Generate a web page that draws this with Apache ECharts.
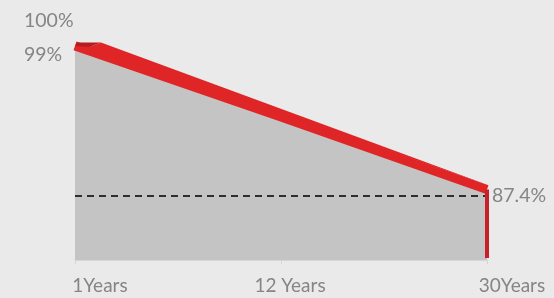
<!DOCTYPE html>
<html>
<head>
<meta charset="utf-8">
<script src="https://cdn.jsdelivr.net/npm/echarts@6/dist/echarts.min.js"></script>
<style>
  html, body { margin: 0; padding: 0; background: #eaeaea; }
  #chart { width: 554px; height: 298px; }
</style>
</head>
<body>
<div id="chart"></div>
<script>
// Données du graphique
const categories = ['1Years', '12 Years', '30Years'];
const values = [99, 93.5, 87.9];
const refValue = 87.4;
const refLabel = '87.4%';
const yTickLabels = ['100%', '99%'];

const yMin = 82.45;
const yMax = 101;

const chart = echarts.init(document.getElementById('chart'));

// décalage des libellés de l'axe x
const labelPad = [50, 18, 50];

// petit effet 3D au début du ruban rouge
const renderRibbon = (params, api) => {
  const p = api.coord([0, values[0]]);
  const q = api.coord([categories.length - 1, values[values.length - 1]]);
  return {
    type: 'group',
    children: [
      {
        type: 'polygon',
        shape: { points: [[p[0] + 14, p[1] + 1], [p[0] + 26, p[1] - 3.5], [q[0] + 1.5, q[1] - 4.3]] },
        style: { fill: '#e02527' }
      },
      {
        type: 'polygon',
        shape: { points: [[p[0], p[1]], [p[0] + 2, p[1] - 3.5], [p[0] + 26, p[1] - 3.5], [p[0] + 14, p[1] + 1]] },
        style: { fill: '#b51c22' }
      }
    ]
  };
};

const option = {
  backgroundColor: '#eaeaea',
  animation: false,
  grid: { left: 75, right: 67, top: 20, bottom: 38 },
  xAxis: {
    type: 'category',
    boundaryGap: false,
    data: categories.map((c, i) => ({
      value: c,
      textStyle: { padding: [0, 0, 0, labelPad[i]] }
    })),
    axisLine: { lineStyle: { color: '#d6d6d6', width: 1 } },
    axisTick: { show: true, length: 4, lineStyle: { color: '#d6d6d6' } },
    axisLabel: {
      interval: 0,
      margin: 16,
      color: '#858585',
      fontFamily: 'Lato',
      fontSize: 19
    },
    splitLine: { show: false }
  },
  yAxis: {
    type: 'value',
    min: yMin,
    max: yMax,
    axisLine: { show: false },
    axisTick: { show: false },
    axisLabel: { show: false },
    splitLine: { show: false }
  },
  graphic: yTickLabels.map((t, i) => ({
    type: 'text',
    left: 24,
    top: i === 0 ? 11 : 45,
    style: {
      text: t,
      fill: '#858585',
      font: '19.5px Lato'
    }
  })),
  series: [
    {
      type: 'line',
      data: values,
      symbol: 'none',
      lineStyle: { color: '#e02527', width: 9, cap: 'butt' },
      areaStyle: { color: '#c4c4c4', opacity: 1 },
      z: 2,
      markLine: {
        silent: true,
        symbol: 'none',
        data: [
          {
            yAxis: refValue,
            lineStyle: { color: '#2e2e2e', width: 2, type: [7, 5] },
            label: {
              show: true,
              position: 'end',
              formatter: refLabel,
              color: '#858585',
              fontFamily: 'Lato',
              fontSize: 19.5,
              distance: 5
            }
          },
          [
            { coord: [categories[2], values[2]], lineStyle: { color: '#c8202a', width: 4, type: 'solid' }, label: { show: false } },
            { coord: [categories[2], yMin + 0.15] }
          ]
        ]
      }
    },
    {
      type: 'custom',
      renderItem: renderRibbon,
      data: [[0, values[0]]],
      silent: true,
      z: 3
    }
  ]
};

chart.setOption(option);
</script>
</body>
</html>
